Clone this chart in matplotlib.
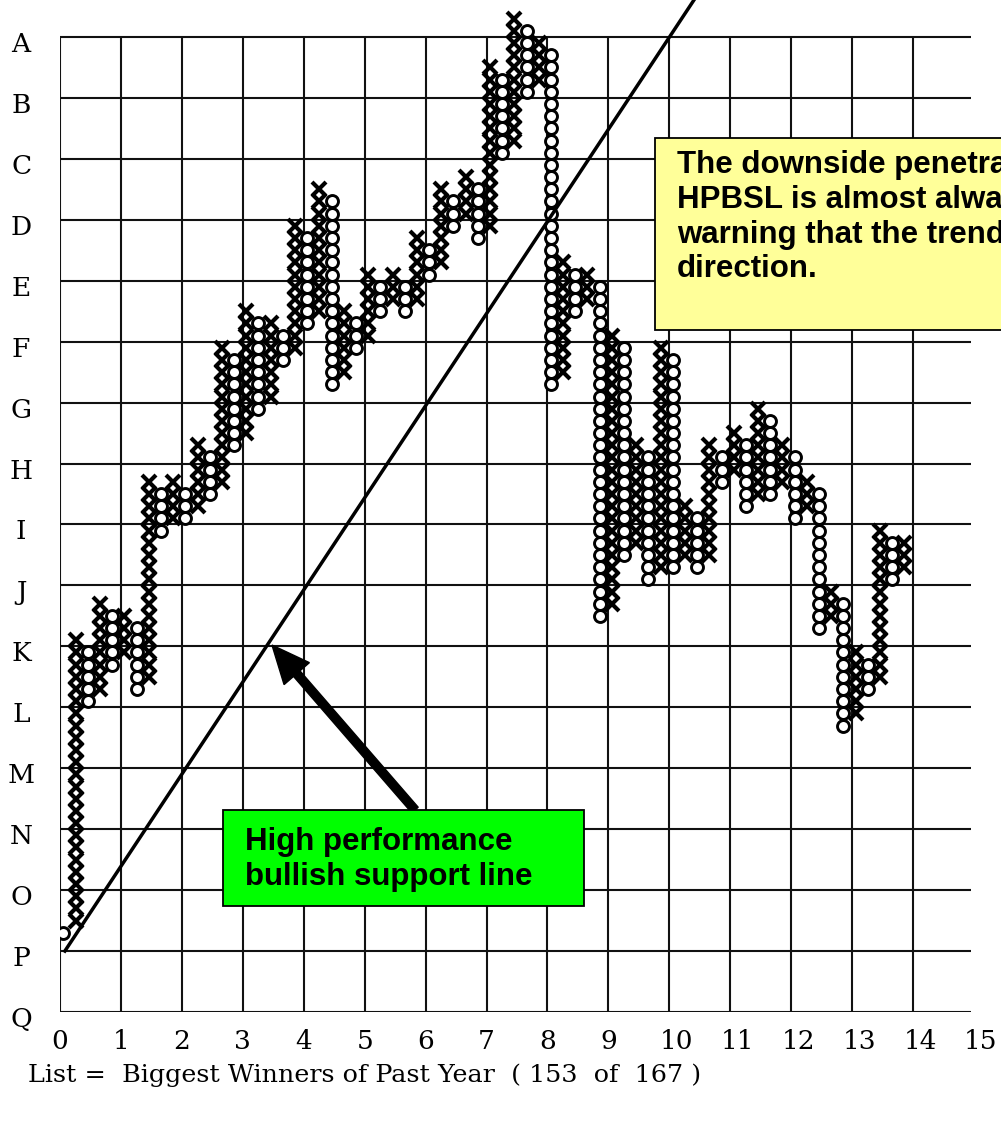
import matplotlib
matplotlib.use("Agg")
import matplotlib.pyplot as plt
import matplotlib.patches as patches
import matplotlib.transforms as mtransforms

W, H, DPI = 1001, 1122, 100

# row letters sit on the horizontal grid lines (P = 0, one unit per line)
row_labels = list("ABCDEFGHIJKLMNOPQ")
row_values = list(range(15, -2, -1))
col_ticks = list(range(16))

# point & figure columns, O first then alternating X / O
# values are box numbers (5 boxes per grid row)
box_low = [1, 2, 20, 21, 23, 24, 21, 22, 34, 35,
           35, 36, 37, 38, 41, 42, 44, 45, 48, 49,
           51, 52, 46, 47, 49, 50, 52, 53, 52, 53,
           55, 56, 59, 60, 58, 59, 65, 66, 70, 71,
           46, 47, 52, 53, 27, 28, 32, 33, 30, 31,
           31, 32, 31, 32, 38, 39, 36, 37, 37, 38,
           35, 36, 26, 27, 18, 19, 21, 22, 30, 31]
box_high = [1, 25, 24, 28, 27, 27, 26, 38, 37, 38,
            37, 41, 40, 49, 48, 52, 51, 51, 50, 59,
            58, 62, 61, 52, 51, 55, 54, 55, 54, 58,
            57, 62, 61, 63, 62, 72, 71, 76, 75, 74,
            73, 56, 55, 55, 54, 50, 49, 41, 40, 49,
            48, 36, 35, 41, 40, 42, 41, 44, 43, 41,
            40, 38, 37, 29, 28, 24, 23, 34, 33, 33]

# high performance bullish support line
trend_x = [0.08, 10.40]
trend_y = [0.0, 15.6]

BOX = 0.2
COL0 = 0.057

fig = plt.figure(figsize=(W / DPI, H / DPI), dpi=DPI)
fig.patch.set_facecolor("white")
ax = fig.add_axes([60 / W, (H - 1012) / H, 914 / W, 1012 / H])
ax.set_xlim(0, 15)
ax.set_ylim(-1, -1 + 1012 / 60.94)
for s in ax.spines.values():
    s.set_visible(False)

# grid
ax.hlines(row_values, 0, 14.95, color="#111111", lw=1.5, zorder=1)
ax.vlines(col_ticks[:-1], -1, 15, color="#111111", lw=1.5, zorder=1)

# boxes
xs_x, ys_x, xs_o, ys_o = [], [], [], []
for c, (lo, hi) in enumerate(zip(box_low, box_high)):
    for k in range(lo, hi + 1):
        if c % 2:
            xs_x.append(COL0 + BOX * c)
            ys_x.append(BOX * (k + 0.5))
        else:
            xs_o.append(COL0 + BOX * c)
            ys_o.append(BOX * (k + 0.5))
ax.plot(xs_x, ys_x, ls="none", marker="x", ms=9.8, mew=3.0, color="black", zorder=3)
ax.plot(xs_o, ys_o, ls="none", marker="o", ms=8.6, mew=2.1, mfc="white",
        mec="black", zorder=3)

ax.plot(trend_x, trend_y, color="black", lw=2.5, zorder=4)

# green note + arrow
ax.arrow(5.826, 2.314, 3.479 - 5.826, 5.021 - 2.314, width=0.14, head_width=0.55,
         head_length=0.62, length_includes_head=True, fc="black", ec="black", zorder=5)
ax.add_patch(patches.Rectangle((2.675, 0.738), 5.925, 1.576, fc="#00FF00",
                               ec="black", lw=1.3, zorder=6))
ax.text(3.036, 1.50, "High performance\nbullish support line", fontsize=22.5,
        fontweight="bold", family="Liberation Sans", ha="left", va="center", zorder=7)

# yellow note (runs off the right edge, as in the original)
ax.add_patch(patches.Rectangle((9.765, 10.190), 7.0, 3.151, fc="#FFFF99",
                               ec="black", lw=1.3, zorder=6, clip_on=False))
ax.text(10.126, 13.14,
        "The downside penetration of the\nHPBSL is almost always a\n"
        "warning that the trend will change\ndirection.",
        fontsize=22.5, fontweight="bold", family="Liberation Sans",
        ha="left", va="top", zorder=7, clip_on=False)

# axis labels
serif = "DejaVu Serif"
ax.set_yticks(row_values)
ax.set_yticklabels(row_labels, fontsize=19, family=serif, ha="center")
ax.tick_params(axis="y", length=0, pad=28)
ax.set_xticks(col_ticks)
ax.set_xticklabels([str(v) for v in col_ticks], fontsize=19, family=serif)
ax.tick_params(axis="x", length=0, pad=12)

down = mtransforms.ScaledTranslation(0, -5 / DPI, fig.dpi_scale_trans)
for lab in ax.get_yticklabels():
    lab.set_transform(lab.get_transform() + down)
right = mtransforms.ScaledTranslation(7 / DPI, 0, fig.dpi_scale_trans)
for v, lab in zip(col_ticks, ax.get_xticklabels()):
    if v >= 10:
        lab.set_transform(lab.get_transform() + right)

ax.set_xlabel("List =  Biggest Winners of Past Year  ( 153  of  167 )",
              fontsize=18.3, family=serif)
ax.xaxis.label.set_ha("left")
ax.xaxis.label.set_va("center")
ax.xaxis.set_label_coords((28 - 60) / 914, -0.0623)

fig.savefig("out.png", dpi=DPI, facecolor="white")
